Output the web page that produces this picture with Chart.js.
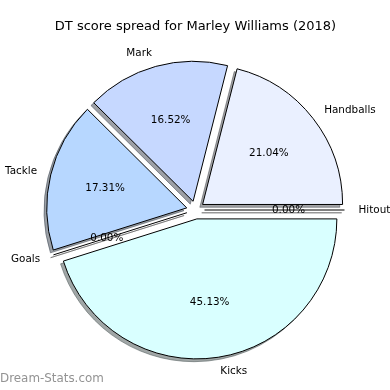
<!DOCTYPE html>
<html><head><meta charset="utf-8">
<script src="https://cdn.jsdelivr.net/npm/chart.js@4/dist/chart.umd.min.js"></script>
<style>html,body{margin:0;padding:0;background:#fff;} canvas{display:block;}</style>
</head><body>
<canvas id="c" width="390" height="390"></canvas>
<script>
const categories = ['Hitout', 'Handballs', 'Mark', 'Tackle', 'Goals', 'Kicks'];
const percentages = [0.00, 21.04, 16.52, 17.31, 0.00, 45.13];
const sliceColors = ['#ffffff', '#eaf0ff', '#c6d8ff', '#b7d7ff', '#ffffff', '#d9ffff'];
const chartTitle = 'DT score spread for Marley Williams (2018)';
const watermark = 'Dream-Stats.com';

// matplotlib draws counter-clockwise from 3 o'clock; Chart.js goes clockwise -> reverse
const labelsCW = categories.slice().reverse();
const valuesCW = percentages.slice().reverse();
const colorsCW = sliceColors.slice().reverse();

const EXPLODE = 9;
const SHADOW = 2.8;
const FONT = "'DejaVu Sans', sans-serif";

function shade(hex) {
  const n = parseInt(hex.slice(1), 16);
  const r = Math.round(((n >> 16) & 255) * 0.3), g = Math.round(((n >> 8) & 255) * 0.3), b = Math.round((n & 255) * 0.3);
  return `rgba(${r},${g},${b},0.5)`;
}

function geom(el) {
  const p = el.getProps(['x', 'y', 'startAngle', 'endAngle', 'outerRadius'], true);
  const mid = (p.startAngle + p.endAngle) / 2;
  return Object.assign(p, { mid, cx: p.x + EXPLODE * Math.cos(mid), cy: p.y + EXPLODE * Math.sin(mid) });
}

const piePlugin = {
  id: 'mplPie',
  beforeDatasetDraw(chart, args) {
    const ctx = chart.ctx;
    const els = args.meta.data;
    // shadows first (under everything)
    els.forEach((el, i) => {
      const g = geom(el);
      const sx = g.cx - SHADOW, sy = g.cy + SHADOW;
      ctx.save();
      ctx.fillStyle = shade(colorsCW[i]);
      ctx.strokeStyle = shade(colorsCW[i]);
      ctx.lineWidth = 1;
      ctx.beginPath();
      ctx.moveTo(sx, sy);
      ctx.arc(sx, sy, g.outerRadius, g.startAngle, g.endAngle);
      ctx.closePath();
      if (g.endAngle - g.startAngle > 0) ctx.fill();
      ctx.stroke();
      ctx.restore();
    });
    // slices (exploded)
    els.forEach((el, i) => {
      const g = geom(el);
      if (g.endAngle - g.startAngle > 0) {
        ctx.save();
        ctx.translate(EXPLODE * Math.cos(g.mid), EXPLODE * Math.sin(g.mid));
        el.draw(ctx, chart.chartArea);
        ctx.restore();
      } else {
        ctx.save();
        ctx.strokeStyle = '#000';
        ctx.lineWidth = 1;
        ctx.beginPath();
        ctx.moveTo(g.cx, g.cy);
        ctx.lineTo(g.cx + g.outerRadius * Math.cos(g.mid), g.cy + g.outerRadius * Math.sin(g.mid));
        ctx.stroke();
        ctx.restore();
      }
    });
    return false;
  },
  afterDatasetsDraw(chart) {
    const ctx = chart.ctx;
    const els = chart.getDatasetMeta(0).data;
    ctx.save();
    ctx.fillStyle = '#000';
    ctx.font = `10.4px ${FONT}`;
    ctx.textBaseline = 'middle';
    els.forEach((el, i) => {
      const g = geom(el);
      const c = Math.cos(g.mid), s = Math.sin(g.mid);
      const lx = g.cx + 1.1 * g.outerRadius * c, ly = g.cy + 1.1 * g.outerRadius * s;
      ctx.textAlign = c > 0 ? 'left' : 'right';
      ctx.fillText(labelsCW[i], lx, ly);
      const px = g.cx + 0.6 * g.outerRadius * c, py = g.cy + 0.6 * g.outerRadius * s;
      ctx.textAlign = 'center';
      ctx.fillText(valuesCW[i].toFixed(2) + '%', px, py);
    });
    ctx.restore();
  },
  afterDraw(chart) {
    const ctx = chart.ctx;
    ctx.save();
    ctx.fillStyle = '#939393';
    ctx.font = `11.9px ${FONT}`;
    ctx.textAlign = 'left';
    ctx.textBaseline = 'middle';
    ctx.fillText(watermark, 0, 379);
    ctx.restore();
  }
};

new Chart(document.getElementById('c'), {
  type: 'pie',
  data: {
    labels: labelsCW,
    datasets: [{ data: valuesCW, backgroundColor: colorsCW, borderColor: '#000', borderWidth: 1, offset: 0 }]
  },
  options: {
    responsive: false,
    animation: false,
    events: [],
    rotation: 90,
    radius: 140,
    layout: { padding: { left: 1, right: 0, top: 0, bottom: 4.6 } },
    plugins: {
      legend: { display: false },
      tooltip: { enabled: false },
      title: {
        display: true, text: chartTitle, color: '#000',
        font: { family: FONT, size: 13, weight: 'normal' },
        padding: { top: 19, bottom: 0 }
      }
    }
  },
  plugins: [piePlugin]
});
</script>
</body></html>
